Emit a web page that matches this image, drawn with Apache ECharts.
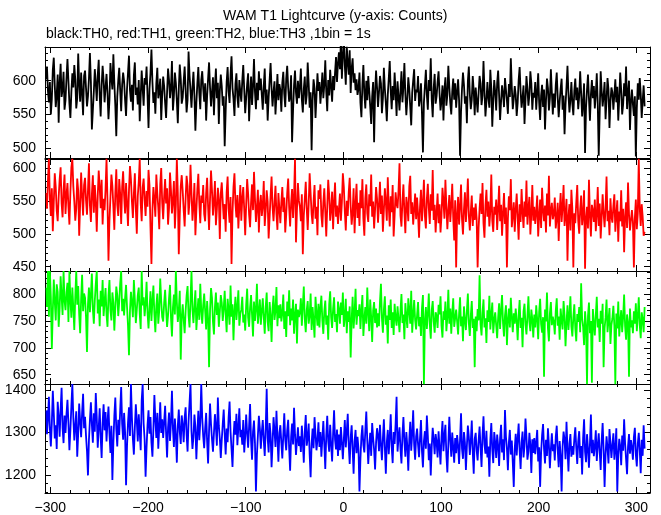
<!DOCTYPE html>
<html><head><meta charset="utf-8">
<script src="https://cdn.jsdelivr.net/npm/echarts@6/dist/echarts.min.js"></script>
<style>html,body{margin:0;padding:0;background:#fff}#c{width:661px;height:515px}</style>
</head><body><div id="c"></div>
<script>
// ---- data (1 s bins, first bin centre at T0) ----
const T0 = -304;
const BIN = 1;
const th0 = [
602,621,585,568,598,550,573,616,634,593,561,579,609,538,597,625,576,587,613,557,
571,604,632,599,566,545,583,611,590,623,602,559,574,640,595,569,612,581,549,607,
615,589,562,577,603,641,598,528,556,584,617,596,570,608,631,579,547,593,622,601,
568,590,610,582,543,571,626,604,587,639,597,563,518,576,600,619,585,555,594,612,
599,571,548,588,612,637,586,569,594,556,608,627,579,590,565,601,540,577,615,589,
563,604,594,621,577,530,588,611,646,598,567,583,551,596,619,574,585,603,542,579,
606,592,567,545,583,618,601,574,590,629,556,578,612,597,570,537,588,624,603,566,
575,599,621,586,553,572,643,608,585,560,591,613,578,526,567,596,620,582,558,601,
614,588,569,596,541,577,603,627,590,562,583,605,549,592,618,574,597,536,584,609,
592,563,577,503,555,598,620,584,567,609,636,589,573,548,595,611,576,560,601,583,
569,600,623,587,552,574,595,611,540,579,606,564,591,632,583,558,597,571,614,586,
603,579,557,592,618,566,587,541,575,601,626,588,562,584,599,550,578,610,571,595,
586,554,597,613,580,561,603,622,590,569,577,608,509,556,593,615,582,566,600,574,
591,618,572,553,588,606,565,579,627,596,560,583,497,571,602,589,545,577,611,585,
598,566,587,612,574,594,630,583,555,601,578,616,592,569,607,586,612,635,598,626,
642,617,659,603,638,664,622,594,650,628,609,645,582,618,633,597,611,586,602,579,
588,612,567,546,594,623,581,559,600,571,607,585,562,536,576,598,509,583,615,590,
561,583,607,596,552,574,619,588,567,540,579,603,629,585,558,592,571,612,584,548,
599,577,556,585,614,568,591,626,580,549,573,605,588,561,534,582,600,617,570,587,
583,607,562,574,596,551,494,568,592,616,579,557,601,585,633,572,546,589,610,566,
577,598,614,581,556,570,593,541,586,605,563,579,622,591,567,550,584,603,572,596,
560,583,602,571,489,554,588,612,594,566,577,537,599,621,580,558,572,607,585,549,
590,571,553,582,607,596,564,578,629,585,547,569,598,575,560,616,589,532,571,601,
583,556,597,615,578,542,569,593,581,561,604,587,570,551,595,576,633,590,558,573,
592,579,548,567,601,620,584,560,575,593,536,571,607,588,563,579,614,596,557,582,
575,598,557,583,611,568,542,578,594,561,587,528,570,603,589,556,574,617,583,550,
581,560,594,612,575,546,569,588,603,557,578,521,564,591,622,580,553,572,598,566,
549,585,603,571,590,558,577,614,582,547,568,596,493,560,587,609,573,541,580,601,
574,592,559,580,611,566,489,553,614,585,562,578,598,543,571,604,587,530,569,590,
583,557,579,602,568,591,541,574,612,586,550,565,596,577,621,558,582,600,527,569,
587,565,548,577,488,559,596,572,604,581,545,570,593,562
];
const th1 = [
562,538,581,614,553,527,569,504,548,592,571,535,519,556,583,601,546,525,567,590,
530,559,577,541,514,563,601,614,572,549,520,538,584,566,497,545,593,557,528,574,
585,551,529,566,607,543,518,560,589,532,574,548,503,557,596,571,539,582,514,553,
536,568,614,549,459,520,555,590,573,541,506,562,598,544,527,583,560,515,571,595,
558,531,577,545,512,566,603,583,549,524,561,592,538,500,557,579,614,546,519,570,
584,553,527,565,541,597,574,510,454,536,571,552,526,590,562,540,507,575,600,548,
522,557,583,546,569,514,539,593,566,531,551,580,508,544,614,562,469,527,572,589,
565,536,511,554,588,573,529,549,605,562,520,543,577,498,535,568,591,547,516,558,
547,574,530,519,562,585,541,506,553,596,566,528,549,580,513,537,570,552,492,561,
578,549,522,545,503,563,587,538,517,556,454,532,571,592,546,525,559,508,541,574,
520,554,571,537,498,545,583,561,529,510,548,575,536,594,553,518,540,567,502,544,
559,527,543,580,512,535,566,549,493,525,558,587,541,519,547,573,530,506,562,538,
516,548,571,533,555,502,529,562,584,540,511,546,568,524,557,614,487,536,577,550,
541,519,560,469,527,553,579,538,506,545,592,561,530,515,549,574,523,541,498,566,
553,575,528,510,547,569,533,496,541,582,559,520,537,564,507,548,578,526,543,515,
538,561,520,548,592,571,534,505,550,527,563,585,541,514,532,569,501,545,576,524,
547,512,566,539,583,523,497,554,575,531,518,560,542,590,526,549,508,537,571,553,
517,544,579,530,558,503,536,569,548,520,586,541,511,557,533,574,496,528,563,545,
539,566,607,528,511,549,575,533,501,556,543,519,572,588,530,548,514,537,561,522,
555,530,494,541,567,519,546,582,527,508,553,576,539,515,560,535,597,521,544,502,
533,561,516,545,502,528,570,549,523,582,541,507,536,559,518,544,576,525,490,551,
449,530,556,514,541,575,522,499,537,563,518,546,584,527,505,534,558,512,540,521,
546,523,449,509,538,561,530,577,516,494,543,567,526,549,511,535,590,520,503,541,
529,552,506,538,573,519,544,497,531,562,515,540,449,523,557,536,583,510,528,548,
503,537,561,524,491,545,518,568,533,509,549,526,581,514,538,556,499,530,574,520,
541,515,533,558,496,527,552,509,570,536,519,543,502,561,528,588,511,534,547,522,
530,555,508,524,547,489,535,562,518,541,574,512,529,553,459,526,545,505,567,538,
449,531,516,548,574,520,500,537,558,513,529,566,447,523,541,508,582,527,496,544,
535,518,552,504,529,571,512,546,493,525,560,531,510,540,587,519,535,498,554,526,
517,542,560,503,529,551,488,534,519,566,511,538,472,525,548,509,578,530,505,521,
536,518,449,524,552,507,531,614,539,512,545,526,497,503
];
const th2 = [
812,776,843,758,843,794,698,769,827,786,751,818,804,739,773,833,796,761,843,788,
770,803,821,748,843,789,756,812,774,733,796,843,780,815,762,727,791,836,768,801,
793,757,692,781,812,766,799,838,772,745,788,819,843,764,790,740,806,777,826,759,
785,811,762,739,797,826,770,751,803,784,732,775,814,798,759,786,820,843,768,791,
760,792,817,776,741,686,769,804,783,757,826,790,746,771,798,812,763,735,843,779,
794,759,781,823,765,736,772,805,750,787,816,762,729,778,801,745,770,829,788,757,
749,783,808,771,739,760,792,817,756,721,775,799,762,843,785,748,770,806,678,757,
781,752,727,769,797,815,760,738,789,843,771,746,778,807,733,764,792,752,819,770,
745,779,801,768,734,787,755,664,770,811,793,748,725,776,803,761,784,739,767,798,
784,750,773,806,762,729,791,770,743,816,758,781,714,768,795,752,776,807,741,763,
771,795,747,762,732,780,810,756,739,775,798,761,721,786,750,772,819,745,766,790,
743,768,792,757,726,776,803,748,731,785,760,711,774,797,752,769,813,740,779,755,
781,749,764,799,735,768,720,786,759,807,742,773,751,790,726,762,782,708,771,757,
766,792,741,778,814,753,729,770,787,745,760,801,733,776,750,719,795,764,741,782,
738,775,797,751,726,768,788,743,760,715,781,805,757,737,772,794,748,763,729,786,
772,745,784,761,803,739,756,791,727,768,748,777,682,752,795,736,764,810,743,770,
759,781,735,770,798,722,753,776,745,812,764,731,790,757,711,769,785,746,773,738,
764,740,786,819,755,728,771,796,743,760,708,779,752,790,737,766,724,782,756,741,
777,753,729,769,800,746,762,716,783,758,737,792,770,745,806,728,761,789,752,734,
761,785,740,757,722,774,798,632,751,776,735,763,801,744,717,770,787,749,728,766,
759,737,780,762,796,741,719,768,752,786,731,757,808,745,773,726,764,792,739,755,
771,749,725,763,794,740,758,712,777,751,733,769,801,746,722,760,787,737,754,664,
758,731,772,751,835,744,723,765,790,738,755,709,770,748,797,734,761,784,727,752,
766,742,718,756,783,735,769,798,746,721,760,779,705,752,773,738,793,757,729,764,
745,773,750,714,761,789,737,756,701,768,782,743,725,759,796,748,731,771,753,719,
762,738,779,753,716,767,791,744,728,757,646,771,749,803,736,712,764,785,742,758,
748,725,769,792,741,758,715,773,751,734,787,760,703,746,779,733,762,796,740,721,
757,781,736,712,763,748,776,729,820,754,739,705,768,743,632,759,784,727,750,635,
772,747,723,761,795,738,754,711,769,745,782,664,736,757,790,729,751,774,707,742,
755,778,741,632,764,736,786,721,750,770,729,757,799,740,715,762,748,646,773,738,
751,727,768,745,783,731,759,794,742,718,766,753,729,776
];
const th3 = [
1352,1296,1331,1384,1309,1267,1322,1398,1345,1286,1317,1261,1372,1338,1290,1354,1405,1311,1275,1340,
1299,1343,1377,1321,1258,1306,1362,1414,1335,1281,1315,1350,1243,1297,1368,1326,1289,1347,1391,1310,
1337,1292,1256,1199,1283,1329,1371,1318,1276,1345,1302,1393,1336,1264,1311,1357,1288,1240,1323,1366,
1305,1348,1279,1325,1361,1297,1252,1316,1188,1274,1339,1382,1308,1267,1330,1294,1353,1407,1320,1283,
1346,1301,1176,1268,1324,1359,1292,1414,1335,1285,1248,1311,1366,1327,1279,1343,1300,1258,1375,1414,
1321,1284,1196,1265,1318,1352,1297,1336,1276,1243,1309,1388,1329,1287,1346,1262,1313,1371,1299,1331,
1287,1325,1363,1298,1241,1312,1347,1280,1324,1398,1308,1266,1333,1293,1229,1316,1354,1301,1273,1340,
1318,1277,1335,1359,1294,1255,1326,1370,1414,1303,1261,1289,1342,1313,1237,1298,1351,1282,1325,1414,
1334,1291,1263,1310,1346,1279,1227,1305,1368,1320,1284,1255,1299,1343,1311,1269,1382,1316,1286,1240,
1283,1320,1354,1296,1248,1309,1277,1335,1373,1302,1261,1219,1288,1327,1295,1344,1270,1312,1357,1289,
1306,1271,1329,1253,1290,1342,1298,1264,1315,1367,1281,1236,1302,1328,1275,1161,1247,1293,1339,1310,
1262,1301,1329,1281,1245,1310,1403,1287,1253,1322,1296,1218,1273,1336,1304,1266,1351,1289,1231,1299,
1317,1276,1239,1294,1345,1283,1258,1305,1330,1263,1210,1289,1321,1272,1358,1296,1247,1280,1312,1268,
1291,1254,1316,1277,1229,1302,1341,1269,1287,1321,1248,1195,1273,1309,1263,1336,1295,1258,1283,1324,
1266,1301,1243,1286,1327,1272,1214,1293,1339,1280,1255,1318,1271,1232,1297,1352,1283,1260,1307,1245,
1295,1258,1313,1276,1237,1284,1329,1265,1301,1344,1270,1226,1288,1317,1261,1203,1279,1306,1251,1290,
1262,1161,1238,1291,1317,1270,1253,1305,1349,1281,1226,1268,1299,1245,1322,1287,1259,1213,1276,1310,
1293,1256,1318,1271,1235,1286,1331,1264,1203,1277,1306,1249,1290,1343,1266,1228,1301,1273,1320,1384,
1255,1288,1312,1261,1227,1294,1336,1279,1243,1301,1268,1210,1283,1325,1257,1297,1352,1272,1236,1290,
1309,1271,1242,1287,1329,1256,1218,1280,1303,1262,1340,1293,1235,1274,1199,1266,1311,1284,1249,1296,
1278,1241,1303,1264,1225,1289,1327,1256,1292,1318,1247,1206,1272,1337,1283,1243,1300,1265,1229,1287,
1251,1294,1270,1226,1283,1345,1262,1238,1301,1276,1212,1268,1316,1290,1247,1279,1328,1255,1203,1285,
1299,1258,1234,1281,1314,1265,1219,1293,1338,1272,1250,1304,1241,1267,1196,1283,1322,1260,1228,1301,
1276,1240,1295,1269,1221,1287,1318,1253,1284,1235,1353,1290,1262,1211,1277,1306,1248,1281,1229,1172,
1263,1297,1246,1285,1321,1258,1214,1276,1302,1241,1268,1333,1289,1236,1255,1299,1271,1205,1284,1252,
1287,1249,1276,1306,1232,1265,1172,1253,1294,1320,1262,1227,1283,1245,1310,1270,1216,1261,1298,1256,
1272,1234,1290,1316,1259,1218,1280,1245,1161,1267,1302,1283,1237,1325,1261,1208,1274,1296,1243,1268,
1248,1285,1312,1264,1226,1279,1303,1240,1268,1201,1287,1331,1255,1230,1296,1262,1217,1273,1342,1251,
1283,1244,1267,1305,1233,1270,1298,1254,1212,1281,1322,1260,1172,1248,1291,1263,1227,1308,1275,1240,
1271,1298,1236,1262,1310,1161,1247,1285,1268,1223,1293,1257,1331,1275,1238,1202,1267,1296,1250,1282,
1265,1236,1289,1311,1248,1220,1274,1299,1258,1204,1283,1245,1317,1262
];
const xMajorTicks = [-300, -200, -100, 0, 100, 200, 300];
const yMajorTicks = [[500, 550, 600], [450, 500, 550, 600], [650, 700, 750, 800], [1200, 1300, 1400]];
const titleText = 'WAM T1 Lightcurve (y-axis: Counts)';
const subText = 'black:TH0, red:TH1, green:TH2, blue:TH3 ,1bin = 1s';

// ---- layout / style ----
const XMIN = -305.5, XMAX = 314;
const panels = [
  {data: th0, color: '#000000', min: 485.7, max: 649.8, minorStep: 10, top: 47, height: 111},
  {data: th1, color: '#ff0000', min: 443.5, max: 613.6, minorStep: 10, top: 159, height: 112},
  {data: th2, color: '#00ff00', min: 632.6, max: 842.9, minorStep: 10, top: 271, height: 113},
  {data: th3, color: '#0000ff', min: 1157.6, max: 1414, minorStep: 20, top: 384, height: 109}
];
const FONT = '"Liberation Sans", Helvetica, Arial, sans-serif';
const fmt = v => (v < 0 ? '\u2212' + Math.abs(v) : String(v));
function minorList(lo, hi, step, majors) {
  const out = [];
  for (let v = Math.ceil(lo / step) * step; v <= hi; v += step) if (majors.indexOf(v) < 0) out.push(v);
  return out;
}
const xMinorTicks = minorList(XMIN, XMAX, 20, xMajorTicks);

const grids = [], xAxes = [], yAxes = [], series = [];
const lineS = {color: '#000', width: 1};
panels.forEach((p, i) => {
  grids.push({left: 45, width: 605, top: p.top, height: p.height, show: false});
  const baseX = {gridIndex: i, type: 'value', min: XMIN, max: XMAX, splitLine: {show: false}, axisLabel: {show: false}};
  const baseY = {gridIndex: i, type: 'value', min: p.min, max: p.max, splitLine: {show: false}, axisLabel: {show: false}};
  const ym = yMajorTicks[i];
  const yMinor = minorList(p.min, p.max, p.minorStep, ym);
  ['bottom', 'top'].forEach(pos => {
    xAxes.push(Object.assign({}, baseX, {
      position: pos,
      axisLine: {show: true, onZero: false, lineStyle: lineS},
      axisTick: {show: true, inside: true, length: 6, customValues: xMajorTicks, lineStyle: lineS},
      axisLabel: (pos === 'bottom' && i === 3)
        ? {show: true, customValues: xMajorTicks, formatter: fmt, color: '#000', fontSize: 14, fontFamily: FONT, margin: 8}
        : {show: false}
    }));
    xAxes.push(Object.assign({}, baseX, {
      position: pos,
      axisLine: {show: false, onZero: false},
      axisTick: {show: true, inside: true, length: 3, customValues: xMinorTicks, lineStyle: lineS}
    }));
  });
  ['left', 'right'].forEach(pos => {
    yAxes.push(Object.assign({}, baseY, {
      position: pos,
      axisLine: {show: true, onZero: false, lineStyle: lineS},
      axisTick: {show: true, inside: true, length: 6, customValues: ym, lineStyle: lineS},
      axisLabel: pos === 'left'
        ? {show: true, customValues: ym, formatter: fmt, color: '#000', fontSize: 14, fontFamily: FONT, margin: 9}
        : {show: false}
    }));
    yAxes.push(Object.assign({}, baseY, {
      position: pos,
      axisLine: {show: false, onZero: false},
      axisTick: {show: true, inside: true, length: 3, customValues: yMinor, lineStyle: lineS}
    }));
  });
  series.push({
    type: 'line', xAxisIndex: i * 4, yAxisIndex: i * 4,
    data: p.data.map((v, k) => [T0 + k * BIN, v]),
    step: 'middle', showSymbol: false, symbol: 'none', clip: true, sampling: 'none',
    lineStyle: {color: p.color, width: 1.8}, itemStyle: {color: p.color}, z: 1
  });
});

const chart = echarts.init(document.getElementById('c'), null, {renderer: 'canvas'});
chart.setOption({
  animation: false,
  backgroundColor: '#ffffff',
  grid: grids, xAxis: xAxes, yAxis: yAxes, series: series,
  graphic: [
    {type: 'text', left: 223, top: 9, style: {text: titleText, fill: '#000', font: '14px ' + FONT}},
    {type: 'text', left: 46, top: 27, style: {text: subText, fill: '#000', font: '14px ' + FONT}}
  ]
});
</script>
</body></html>
